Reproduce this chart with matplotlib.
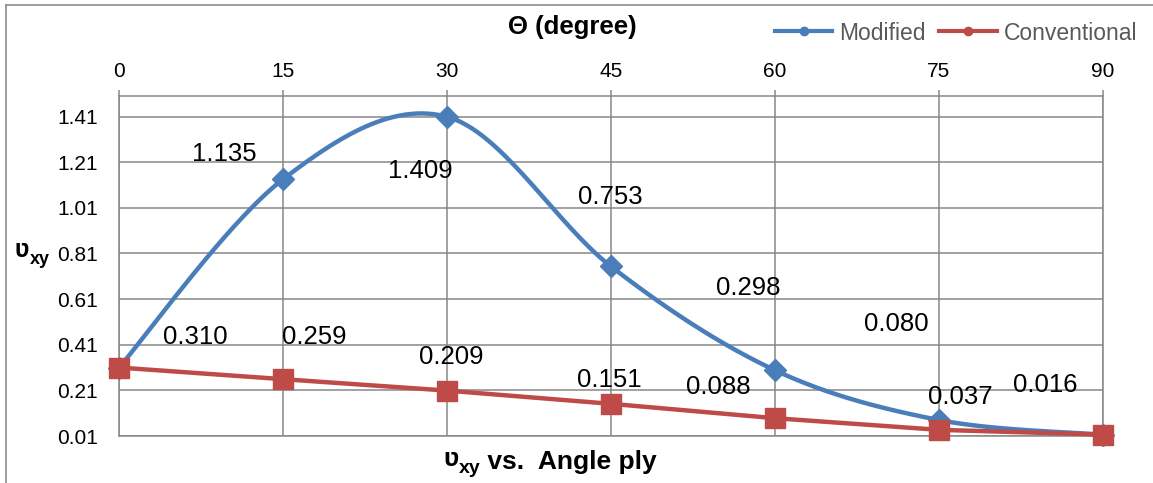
import numpy as np
import matplotlib
matplotlib.use('Agg')
import matplotlib.pyplot as plt
from matplotlib.lines import Line2D

plt.rcParams['font.family'] = ['Liberation Sans', 'DejaVu Sans']

# ply angle (degree) and Poisson's ratio v_xy
angles = [0, 15, 30, 45, 60, 75, 90]
modified = [0.310, 1.135, 1.409, 0.753, 0.298, 0.080, 0.016]
conventional = [0.310, 0.259, 0.209, 0.151, 0.088, 0.037, 0.016]
y_ticks = [0.01, 0.21, 0.41, 0.61, 0.81, 1.01, 1.21, 1.41]

# label offsets in pixels (None = label shared with the other series)
mod_offsets = [(76, 31), (-59, 25), (-27, -54), (-1, 69), (-27, 82), (-43, 96), None]
conv_offsets = [None, (31, 42), (4, 34), (-2, 24), (-57, 31), (21, 33), (-58, 50)]

BLUE = '#4A7EBB'
RED = '#BE4B48'
GRID = '#878787'


def smooth(x, y, n=60):
    # bezier smoothing like spreadsheet "smoothed line"
    x = np.asarray(x, float)
    y = np.asarray(y, float)
    px = np.concatenate([[x[0]], x, [x[-1]]])
    py = np.concatenate([[y[0]], y, [y[-1]]])
    t = np.linspace(0, 1, n)[:, None]
    xs, ys = [], []
    for i in range(1, len(px) - 2):
        p0 = np.array([px[i], py[i]])
        p3 = np.array([px[i + 1], py[i + 1]])
        c1 = p0 + (np.array([px[i + 1], py[i + 1]]) - np.array([px[i - 1], py[i - 1]])) / 6
        c2 = p3 - (np.array([px[i + 2], py[i + 2]]) - p0) / 6
        pts = ((1 - t) ** 3) * p0 + 3 * ((1 - t) ** 2) * t * c1 + 3 * (1 - t) * t ** 2 * c2 + t ** 3 * p3
        xs.append(pts[:, 0])
        ys.append(pts[:, 1])
    return np.concatenate(xs), np.concatenate(ys)


W, H = 1153, 483
fig = plt.figure(figsize=(W / 100, H / 100), dpi=100)
ax = fig.add_axes([119 / W, 1 - 436 / H, (1103 - 119) / W, (436 - 96) / H])

sx, sy = smooth(angles, modified)
ax.plot(sx, sy, color=BLUE, lw=3.2, solid_capstyle='round', zorder=3, clip_on=False)
ax.plot(angles, modified, ls='none', marker='D', ms=11, color=BLUE, zorder=4, clip_on=False)
ax.plot(angles, conventional, color=RED, lw=3.2, marker='s', ms=14, zorder=5, clip_on=False)

for xs_, vals, offs in [(angles, modified, mod_offsets), (angles, conventional, conv_offsets)]:
    for a, v, off in zip(xs_, vals, offs):
        if off is None:
            continue
        ax.annotate(f'{v:.3f}', xy=(a, v), xytext=off, textcoords='offset pixels',
                    ha='center', va='center', fontsize=18.5, color='black',
                    annotation_clip=False, zorder=6)

ax.set_xlim(0, 90)
ax.set_ylim(0.01, 1.5)
ax.set_xticks(angles)
ax.set_yticks(y_ticks)
ax.set_yticklabels([f'{v:.2f}' for v in y_ticks])
ax.xaxis.tick_top()
ax.tick_params(axis='x', length=4.5, width=1.1, color=GRID, pad=6.5, labelsize=15)
ax.tick_params(axis='y', length=0, pad=15, labelsize=15)
ax.grid(True, color=GRID, lw=1.1)
ax.set_axisbelow(True)
for s in ax.spines.values():
    s.set_color(GRID)
    s.set_linewidth(1.1)

# titles
fig.text(572 / W, 1 - 27 / H, 'Θ (degree)', ha='center', va='center',
         fontsize=18.5, fontweight='bold')

t1 = fig.text(443 / W, 1 - 459 / H, 'ʋ', ha='left', va='center', fontsize=19, fontweight='bold')
t2 = ax.annotate('xy', xy=(1, 0.1), xycoords=t1, ha='left', va='center',
                 fontsize=14, fontweight='bold')
ax.annotate(' vs.  Angle ply', xy=(1, 0.9), xycoords=t2, ha='left', va='center',
            fontsize=19, fontweight='bold')

y1 = fig.text(15 / W, 1 - 250 / H, 'ʋ', ha='left', va='center', fontsize=18, fontweight='bold')
ax.annotate('xy', xy=(1, 0.1), xycoords=y1, ha='left', va='center',
            fontsize=13, fontweight='bold')

# legend
handles = [Line2D([], [], color=BLUE, lw=3, marker='o', ms=6),
           Line2D([], [], color=RED, lw=3, marker='o', ms=6)]
fig.legend(handles, ['Modified', 'Conventional'], loc='center right',
           bbox_to_anchor=(1137 / W, 1 - 33 / H), ncol=2, frameon=False,
           fontsize=16.5, labelcolor='#595959', handlelength=2.5,
           handletextpad=0.3, columnspacing=0.6, borderpad=0, borderaxespad=0)

# chart border
fig.add_artist(Line2D([6 / W, 6 / W], [0, 1 - 5 / H], color='#8C8C8C', lw=1.2))
fig.add_artist(Line2D([6 / W, 1], [1 - 5 / H, 1 - 5 / H], color='#8C8C8C', lw=1.2))

fig.savefig('out.png', dpi=100)
